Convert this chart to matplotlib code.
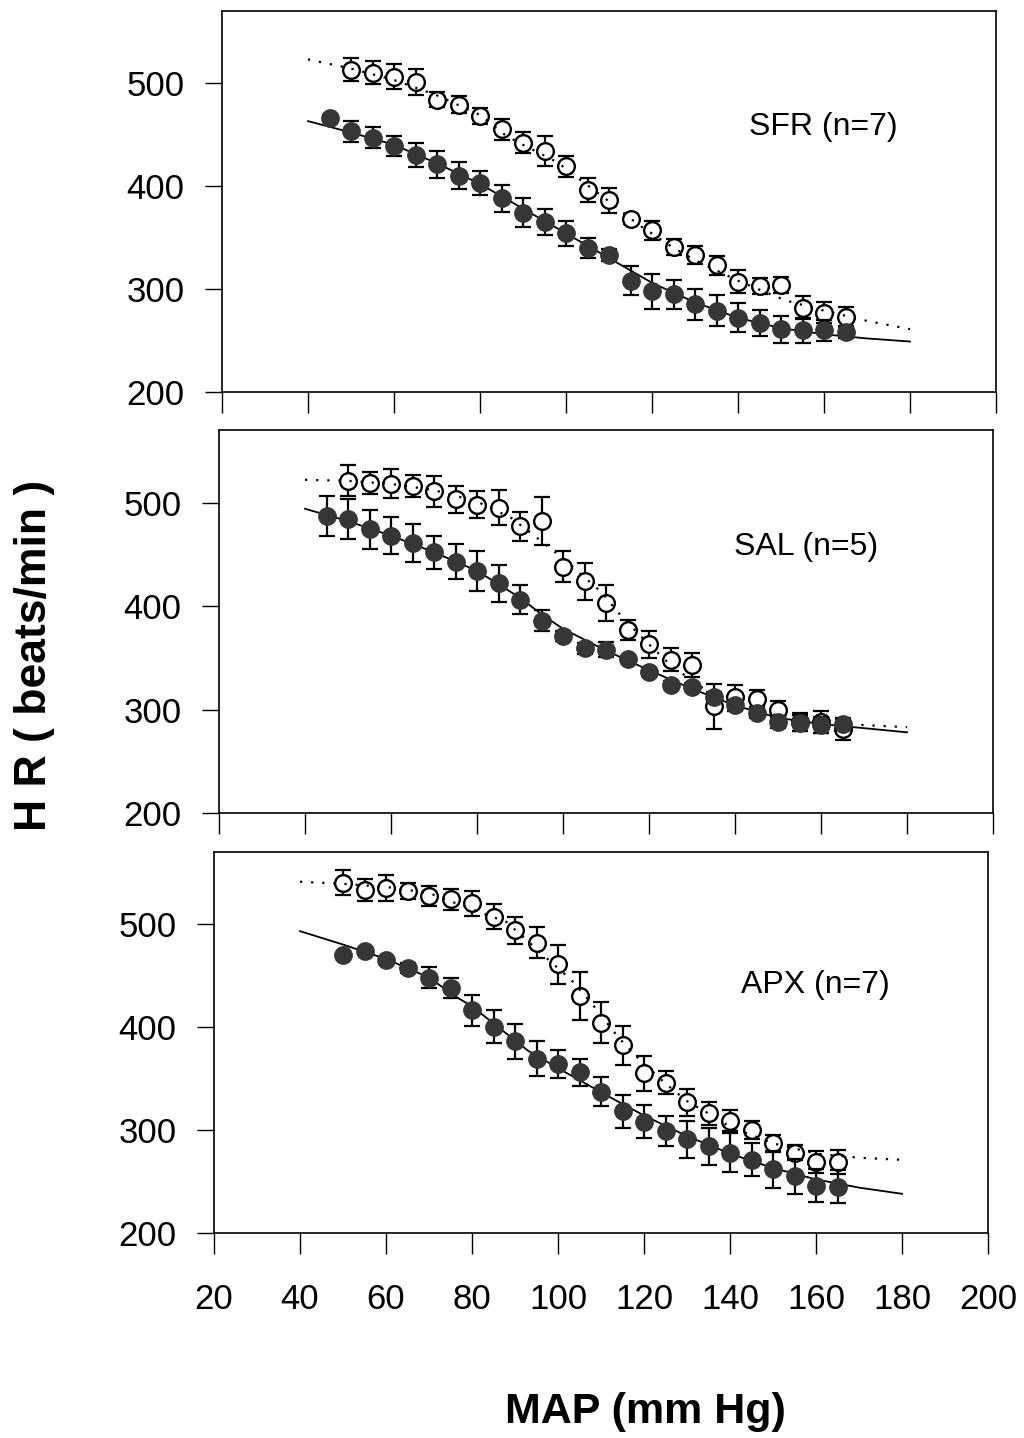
import matplotlib
matplotlib.use('Agg')
import matplotlib.pyplot as plt

plt.rcParams['font.family'] = ['Liberation Sans', 'DejaVu Sans']

# MAP steps (mm Hg)
map_45 = [45, 50, 55, 60, 65, 70, 75, 80, 85, 90, 95, 100, 105, 110, 115, 120,
          125, 130, 135, 140, 145, 150, 155, 160, 165]
map_50 = map_45[1:]

# SFR (n=7)
sfr_fill = [466, 453, 447, 439, 430, 421, 410, 403, 388, 374, 365, 354, 340, 333,
            308, 298, 295, 285, 279, 272, 267, 261, 260, 260, 258]
sfr_fill_err = [3, 10, 10, 10, 12, 13, 13, 12, 13, 14, 13, 12, 10, 6, 14, 17, 14,
                15, 15, 14, 13, 13, 12, 10, 6]
sfr_open = [513, 510, 506, 501, 484, 479, 468, 455, 442, 434, 419, 396, 386, 368,
            357, 341, 333, 323, 307, 303, 304, 282, 277, 273]
sfr_open_err = [11, 11, 12, 13, 7, 8, 8, 10, 10, 15, 10, 12, 12, 5, 9, 8, 9, 9,
                11, 8, 8, 11, 10, 10]
sfr_solid_x = [40, 50, 60, 70, 80, 90, 100, 110, 120, 130, 140, 150, 160, 170, 180]
sfr_solid_y = [463, 452, 440, 422, 402, 378, 354, 330, 306, 287, 272, 262, 256, 252, 249]
sfr_dot_x = [40, 50, 60, 70, 80, 86, 90, 98, 103, 110, 117, 125, 130, 140, 151, 160, 170, 180]
sfr_dot_y = [523, 514, 503, 488, 469, 449, 440, 423, 407, 385, 362, 340, 328, 308, 289,
             279, 269, 261]

# SAL (n=5)
sal_fill = [487, 484, 474, 468, 461, 452, 443, 434, 422, 406, 386, 371, 359, 358,
            349, 336, 324, 322, 312, 304, 297, 288, 287, 285, 286]
sal_fill_err = [19, 19, 19, 18, 18, 16, 17, 19, 18, 14, 10, 5, 5, 7, 3, 4, 4, 4,
                5, 5, 5, 6, 8, 8, 6]
sal_open = [521, 519, 518, 516, 511, 503, 498, 495, 477, 482, 438, 424, 403, 377,
            363, 348, 343, 303, 312, 310, 300, 288, 288, 281]
sal_open_err = [15, 11, 14, 11, 15, 13, 13, 17, 14, 23, 15, 18, 17, 10, 13, 11, 12,
                22, 12, 9, 8, 9, 11, 10]
sal_solid_x = [40, 50, 60, 70, 80, 90, 95, 100, 110, 120, 130, 140, 150, 160, 170, 180]
sal_solid_y = [494, 482, 468, 452, 434, 408, 392, 378, 357, 338, 320, 304, 292, 286, 282, 278]
sal_dot_x = [40, 50, 60, 70, 80, 88, 93, 100, 109, 114, 119, 125, 132, 140, 150, 160, 170, 180]
sal_dot_y = [522, 521, 518, 512, 501, 485, 469, 446, 413, 388, 367, 343, 322, 306, 294,
             288, 285, 283]

# APX (n=7)
apx_fill = [470, 474, 465, 457, 448, 438, 416, 400, 386, 369, 364, 356, 337, 318,
            308, 299, 291, 284, 278, 271, 262, 255, 246, 245]
apx_fill_err = [0, 3, 3, 5, 10, 10, 15, 16, 17, 17, 14, 13, 14, 16, 16, 15, 18, 18,
                19, 16, 18, 17, 16, 16]
apx_open = [540, 533, 535, 532, 527, 524, 520, 507, 494, 482, 461, 430, 404, 382,
            355, 346, 327, 316, 309, 300, 287, 278, 269, 269]
apx_open_err = [12, 11, 13, 8, 10, 10, 12, 12, 13, 15, 19, 23, 20, 19, 17, 11, 13,
                11, 10, 9, 8, 7, 11, 12]
apx_solid_x = [40, 50, 60, 70, 76, 80, 93, 100, 112, 120, 130, 140, 150, 160, 170, 180]
apx_solid_y = [493, 480, 466, 448, 430, 420, 377, 360, 332, 314, 294, 277, 263, 252, 244, 238]
apx_dot_x = [40, 50, 60, 70, 82, 88, 97, 103, 108, 114, 119, 125, 130, 135, 140, 150,
             160, 170, 180]
apx_dot_y = [541, 539, 536, 530, 511, 502, 468, 446, 422, 390, 368, 345, 328, 316, 303,
             287, 277, 273, 271]

panels = [
    ('SFR (n=7)', (159.8, 457), map_45, sfr_fill, sfr_fill_err, map_50, sfr_open, sfr_open_err,
     sfr_solid_x, sfr_solid_y, sfr_dot_x, sfr_dot_y),
    ('SAL (n=5)', (156.6, 457), map_45, sal_fill, sal_fill_err, map_50, sal_open, sal_open_err,
     sal_solid_x, sal_solid_y, sal_dot_x, sal_dot_y),
    ('APX (n=7)', (159.8, 441), map_50, apx_fill, apx_fill_err, map_50, apx_open, apx_open_err,
     apx_solid_x, apx_solid_y, apx_dot_x, apx_dot_y),
]

# axes boxes in figure fractions (left, bottom, width, height)
boxes = [(0.2168, 0.7274, 0.7559, 0.2650),
         (0.2139, 0.4346, 0.7559, 0.2663),
         (0.2090, 0.1426, 0.7559, 0.2650)]

fig = plt.figure(figsize=(10.24, 14.38), dpi=100)
fill_col = '#363636'

for i, (p, box) in enumerate(zip(panels, boxes)):
    label, lpos, fx, fy, fe, ox, oy, oe, sx, sy, dx, dy = p
    ax = fig.add_axes(box)

    ax.plot(sx, sy, color='black', linewidth=1.3, zorder=2)
    ax.errorbar(ox, oy, yerr=oe, fmt='none', ecolor='black', elinewidth=1.6,
                capsize=6, capthick=1.6, zorder=3)
    ax.plot(ox, oy, 'o', markersize=12, markerfacecolor='white',
            markeredgecolor='black', markeredgewidth=1.7, zorder=4)
    ax.plot(dx, dy, color='black', linewidth=1.6, linestyle=(0, (1, 4)), zorder=5)
    ax.errorbar(fx, fy, yerr=fe, fmt='none', ecolor='black', elinewidth=1.6,
                capsize=6, capthick=1.6, zorder=6)
    ax.plot(fx, fy, 'o', markersize=12.5, markerfacecolor=fill_col,
            markeredgecolor=fill_col, zorder=7)

    ax.text(lpos[0], lpos[1], label, fontsize=23, ha='center', va='center')

    ax.set_xlim(20, 200)
    ax.set_ylim(200, 570)
    ax.set_xticks(range(20, 201, 20))
    ax.set_yticks([200, 300, 400, 500])
    for s in ax.spines.values():
        s.set_linewidth(1.2)
    ax.tick_params(axis='y', direction='out', length=12, width=1, labelsize=25, pad=15)
    ax.tick_params(axis='x', direction='out', length=15, width=1, labelsize=25, pad=21)
    if i < 2:
        ax.tick_params(axis='x', labelbottom=False)

fig.text(0.034, 0.5445, 'H R ( beats/min )', rotation=90, ha='center', va='center',
         fontsize=32, fontweight='bold')
fig.text(0.63, 0.018, 'MAP (mm Hg)', ha='center', va='center',
         fontsize=31, fontweight='bold')

fig.savefig('out.png', dpi=100)
